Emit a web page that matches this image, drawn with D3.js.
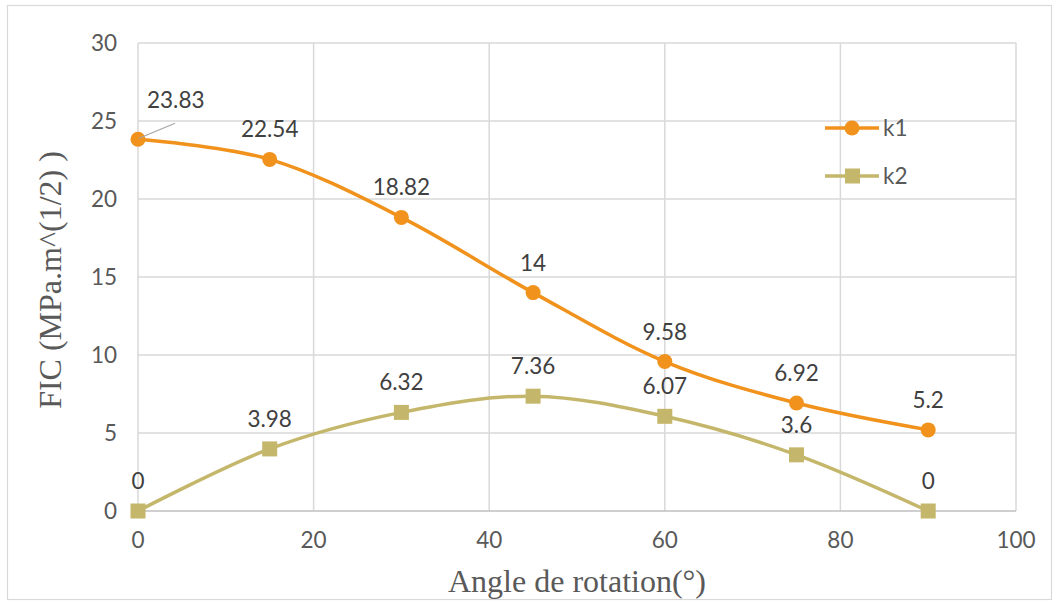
<!DOCTYPE html>
<html><head><meta charset="utf-8">
<script src="https://cdn.jsdelivr.net/npm/d3@7"></script>
<style>body{margin:0;background:#fff}</style>
</head><body>
<svg id="c" width="1059" height="602"></svg>
<script>
const angles = [0, 15, 30, 45, 60, 75, 90];
const k1 = [23.83, 22.54, 18.82, 14, 9.58, 6.92, 5.2];
const k2 = [0, 3.98, 6.32, 7.36, 6.07, 3.6, 0];
const xTicks = [0, 20, 40, 60, 80, 100];
const yTicks = [0, 5, 10, 15, 20, 25, 30];
const seriesNames = ["k1", "k2"];
const colors = ["#F0921C", "#C4B76B"];

const svg = d3.select("#c");
const W = 1059, H = 602;
const m = {l: 138, r: 43, t: 43, b: 91};
const x = d3.scaleLinear().domain([0, 100]).range([m.l, W - m.r]);
const y = d3.scaleLinear().domain([0, 30]).range([H - m.b, m.t]);
const sans = "Lato, 'Open Sans', sans-serif";
const serif = "'Liberation Serif', 'Times New Roman', serif";
const FS = 22.5;

function txt(g, tx, ty, s, opts) {
  opts = opts || {};
  return g.append("text")
    .attr("x", tx).attr("y", ty)
    .attr("text-anchor", opts.anchor || "middle")
    .attr("font-family", opts.font || sans)
    .attr("font-size", opts.size || FS)
    .attr("fill", opts.fill || "#595959")
    .text(s);
}

svg.append("rect").attr("x", 7.5).attr("y", 5.5).attr("width", 1044).attr("height", 594)
  .attr("fill", "#fff").attr("stroke", "#D9D9D9").attr("stroke-width", 1.2);

// gridlines
svg.append("g").selectAll("line").data(yTicks.filter(d => d > 0)).join("line")
  .attr("x1", x(0)).attr("x2", x(100)).attr("y1", d => y(d)).attr("y2", d => y(d))
  .attr("stroke", "#D9D9D9").attr("stroke-width", 1.5);
svg.append("g").selectAll("line").data(xTicks).join("line")
  .attr("x1", d => x(d)).attr("x2", d => x(d)).attr("y1", y(0)).attr("y2", y(30))
  .attr("stroke", "#D9D9D9").attr("stroke-width", 1.5);
svg.append("line").attr("x1", x(0)).attr("x2", x(100)).attr("y1", y(0)).attr("y2", y(0))
  .attr("stroke", "#BFBFBF").attr("stroke-width", 1.5);

// tick labels
const tg = svg.append("g");
xTicks.forEach(t => txt(tg, x(t), y(0) + 37, t));
yTicks.forEach(t => txt(tg, x(0) - 21, y(t) + 8, t, {anchor: "end"}));

// titles
txt(svg, (x(0) + x(100)) / 2, 592, "Angle de rotation(°)", {font: serif, size: 32});
svg.append("text").attr("transform", `translate(61,280) rotate(-90)`)
  .attr("text-anchor", "middle").attr("font-family", serif).attr("font-size", 32)
  .attr("fill", "#595959").text("FIC (MPa.m^(1/2) )");

const line = d3.line().x(d => x(d[0])).y(d => y(d[1])).curve(d3.curveCardinal.tension(0));
const data = [k1, k2].map(s => angles.map((a, i) => [a, s[i]]));

data.forEach((pts, si) => {
  svg.append("path").attr("d", line(pts)).attr("fill", "none")
    .attr("stroke", colors[si]).attr("stroke-width", 3.5);
});
// markers
svg.append("g").selectAll("circle").data(data[0]).join("circle")
  .attr("cx", d => x(d[0])).attr("cy", d => y(d[1])).attr("r", 7.5).attr("fill", colors[0]);
svg.append("g").selectAll("rect").data(data[1]).join("rect")
  .attr("x", d => x(d[0]) - 7.5).attr("y", d => y(d[1]) - 7.5).attr("width", 15).attr("height", 15)
  .attr("fill", colors[1]);

// leader line for first k1 label
svg.append("line").attr("x1", x(0) + 1).attr("y1", y(k1[0]) - 1).attr("x2", x(0) + 37).attr("y2", y(k1[0]) - 16)
  .attr("stroke", "#A6A6A6").attr("stroke-width", 1.3);

// data labels
const lbl = svg.append("g");
data[0].forEach((d, i) => {
  if (i === 0) txt(lbl, x(d[0]) + 9, y(d[1]) - 31, d[1], {anchor: "start", fill: "#404040"});
  else txt(lbl, x(d[0]), y(d[1]) - 22, d[1], {fill: "#404040"});
});
data[1].forEach(d => txt(lbl, x(d[0]), y(d[1]) - 22, d[1], {fill: "#404040"}));

// legend
seriesNames.forEach((n, i) => {
  const ly = 128 + i * 48;
  const g = svg.append("g");
  g.append("line").attr("x1", 825).attr("x2", 879).attr("y1", ly).attr("y2", ly)
    .attr("stroke", colors[i]).attr("stroke-width", 3.5);
  if (i === 0) g.append("circle").attr("cx", 852).attr("cy", ly).attr("r", 7.5).attr("fill", colors[i]);
  else g.append("rect").attr("x", 845).attr("y", ly - 7.5).attr("width", 15).attr("height", 15).attr("fill", colors[i]);
  txt(g, 883, ly + 8, n, {anchor: "start"});
});
</script>
</body></html>
